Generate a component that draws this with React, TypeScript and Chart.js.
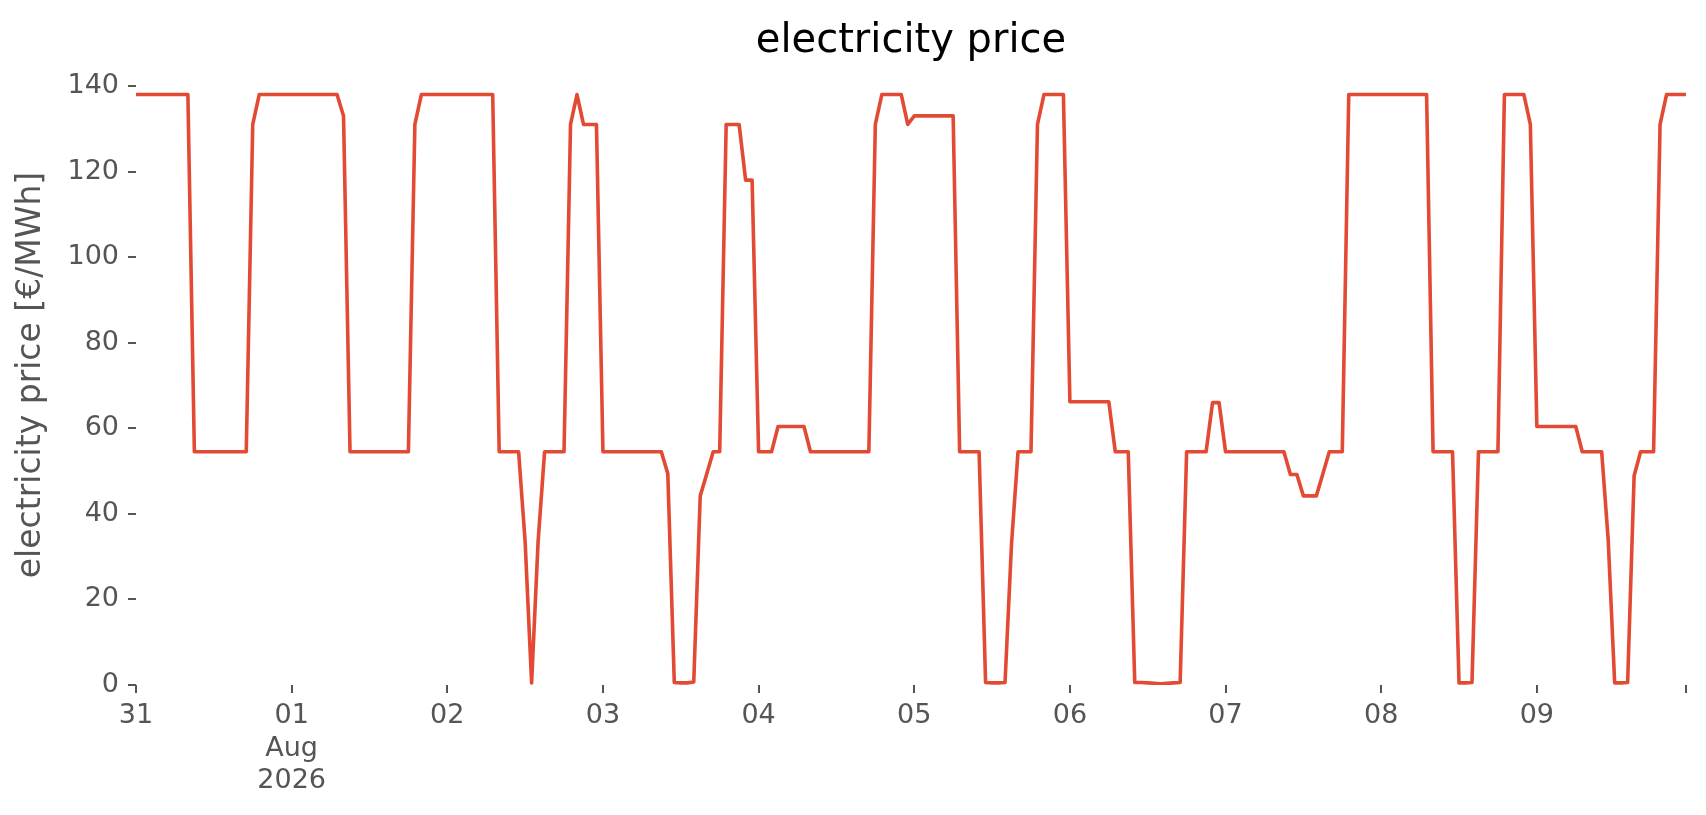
import React, { useEffect, useRef } from "react";
import { Chart, registerables } from "chart.js";

Chart.register(...registerables);

const TITLE = "electricity price";
const Y_LABEL = "electricity price [€/MWh]";
const LINE_COLOR = "#E24A33";
const TEXT_GRAY = "#555555";
const FONT = "DejaVu Sans";

// hourly electricity prices [€/MWh], one array per day (00:00 … 23:00)
const jul31 = [138, 138, 138, 138, 138, 138, 138, 138, 138, 54.5, 54.5, 54.5, 54.5, 54.5, 54.5, 54.5, 54.5, 54.5, 131, 138, 138, 138, 138, 138];
const aug01 = [138, 138, 138, 138, 138, 138, 138, 138, 133, 54.5, 54.5, 54.5, 54.5, 54.5, 54.5, 54.5, 54.5, 54.5, 54.5, 131, 138, 138, 138, 138];
const aug02 = [138, 138, 138, 138, 138, 138, 138, 138, 54.5, 54.5, 54.5, 54.5, 33.5, 0.5, 33.5, 54.5, 54.5, 54.5, 54.5, 131, 138, 131, 131, 131];
const aug03 = [54.5, 54.5, 54.5, 54.5, 54.5, 54.5, 54.5, 54.5, 54.5, 54.5, 49.4, 0.6, 0.5, 0.5, 0.7, 44.2, 49.3, 54.5, 54.5, 131, 131, 131, 118, 118];
const aug04 = [54.5, 54.5, 54.5, 60.4, 60.4, 60.4, 60.4, 60.4, 54.5, 54.5, 54.5, 54.5, 54.5, 54.5, 54.5, 54.5, 54.5, 54.5, 131, 138, 138, 138, 138, 131];
const aug05 = [133, 133, 133, 133, 133, 133, 133, 54.5, 54.5, 54.5, 54.5, 0.6, 0.5, 0.5, 0.6, 33, 54.5, 54.5, 54.5, 131, 138, 138, 138, 138];
const aug06 = [66.2, 66.2, 66.2, 66.2, 66.2, 66.2, 66.2, 54.5, 54.5, 54.5, 0.6, 0.6, 0.5, 0.4, 0.3, 0.4, 0.5, 0.6, 54.5, 54.5, 54.5, 54.5, 66, 66];
const aug07 = [54.5, 54.5, 54.5, 54.5, 54.5, 54.5, 54.5, 54.5, 54.5, 54.5, 49.2, 49.2, 44.2, 44.2, 44.2, 49.3, 54.5, 54.5, 54.5, 138, 138, 138, 138, 138];
const aug08 = [138, 138, 138, 138, 138, 138, 138, 138, 54.5, 54.5, 54.5, 54.5, 0.5, 0.5, 0.6, 54.5, 54.5, 54.5, 54.5, 138, 138, 138, 138, 131];
const aug09 = [60.4, 60.4, 60.4, 60.4, 60.4, 60.4, 60.4, 54.5, 54.5, 54.5, 54.5, 34, 0.5, 0.5, 0.6, 48.9, 54.5, 54.5, 54.5, 131, 138, 138, 138, 138];

const DAYS = [jul31, aug01, aug02, aug03, aug04, aug05, aug06, aug07, aug08, aug09];
const PRICES: number[] = DAYS.flat();

// x axis: hours since 31 Jul 00:00
const X_TICK_HOURS = [0, 24, 48, 72, 96, 120, 144, 168, 192, 216, 239];
const X_TICK_LABELS: string[][] = [
  ["31"],
  ["01", "Aug", "2026"],
  ["02"],
  ["03"],
  ["04"],
  ["05"],
  ["06"],
  ["07"],
  ["08"],
  ["09"],
  [""],
];

const Y_MIN = 0;
const Y_MAX = 144.9;
const Y_STEP = 20;

// title centred over the plot area (like matplotlib's axes title)
const axesTitlePlugin = {
  id: "axesTitle",
  afterDraw(chart: any) {
    const { ctx, chartArea } = chart;
    ctx.save();
    ctx.font = `normal 40px "${FONT}"`;
    ctx.fillStyle = "#000000";
    ctx.textAlign = "center";
    ctx.textBaseline = "alphabetic";
    ctx.fillText(TITLE, (chartArea.left + chartArea.right) / 2, chartArea.top - 13);
    ctx.restore();
  },
};

export default function App() {
  const canvasRef = useRef<HTMLCanvasElement | null>(null);

  useEffect(() => {
    const canvas = canvasRef.current;
    if (!canvas) return;
    const points = PRICES.map((v, i) => ({ x: i, y: v }));

    const chart = new Chart(canvas, {
      type: "line",
      data: {
        datasets: [
          {
            label: TITLE,
            data: points,
            borderColor: LINE_COLOR,
            backgroundColor: LINE_COLOR,
            borderWidth: 3.6,
            pointRadius: 0,
            pointHoverRadius: 0,
            tension: 0,
            fill: false,
            borderJoinStyle: "round",
            borderCapStyle: "butt",
          },
        ],
      },
      plugins: [axesTitlePlugin],
      options: {
        responsive: false,
        maintainAspectRatio: false,
        devicePixelRatio: 1,
        animation: false,
        events: [],
        layout: {
          padding: { left: 0, right: 20, top: 65, bottom: 0 },
        },
        plugins: {
          legend: { display: false },
          tooltip: { enabled: false },
          title: { display: false },
        },
        scales: {
          x: {
            type: "linear",
            min: 0,
            max: PRICES.length - 1,
            afterBuildTicks: (scale: any) => {
              scale.ticks = X_TICK_HOURS.map((value) => ({ value }));
            },
            afterFit: (scale: any) => {
              scale.height = 130;
            },
            ticks: {
              autoSkip: false,
              maxRotation: 0,
              minRotation: 0,
              padding: 7,
              color: TEXT_GRAY,
              font: { family: FONT, size: 27, lineHeight: 1.2 },
              callback: (value: any) => {
                const idx = X_TICK_HOURS.indexOf(Number(value));
                return idx >= 0 ? X_TICK_LABELS[idx] : "";
              },
            },
            grid: {
              display: true,
              drawOnChartArea: false,
              drawTicks: true,
              tickLength: 8,
              color: TEXT_GRAY,
              lineWidth: 2,
            },
            border: { display: false },
          },
          y: {
            type: "linear",
            min: Y_MIN,
            max: Y_MAX,
            afterFit: (scale: any) => {
              scale.width = 136;
            },
            ticks: {
              stepSize: Y_STEP,
              includeBounds: false,
              padding: 9,
              color: TEXT_GRAY,
              font: { family: FONT, size: 27 },
            },
            title: {
              display: true,
              text: Y_LABEL,
              color: TEXT_GRAY,
              font: { family: FONT, size: 33, lineHeight: 1.2 },
              padding: { top: 12, bottom: 0 },
            },
            grid: {
              display: true,
              drawOnChartArea: false,
              drawTicks: true,
              tickLength: 8,
              color: TEXT_GRAY,
              lineWidth: 2,
            },
            border: { display: false },
          },
        },
      } as any,
    });

    return () => {
      chart.destroy();
    };
  }, []);

  return (
    <div
      style={{
        position: "absolute",
        left: 0,
        top: 0,
        width: 1706,
        height: 815,
        background: "#ffffff",
      }}
    >
      <canvas
        ref={canvasRef}
        width={1706}
        height={815}
        style={{ width: 1706, height: 815, display: "block" }}
      />
    </div>
  );
}
